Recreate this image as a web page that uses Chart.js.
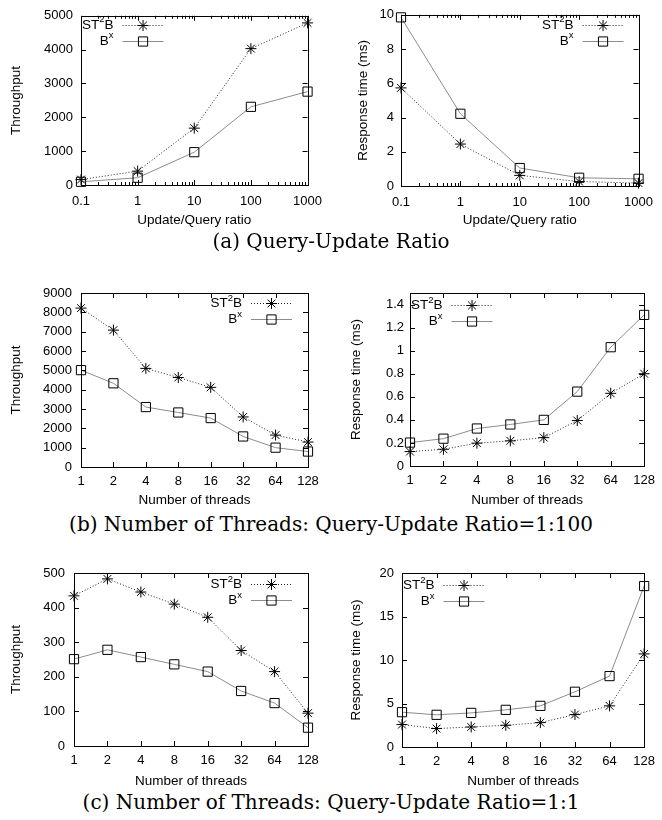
<!DOCTYPE html>
<html>
<head>
<meta charset="utf-8">
<script src="https://cdn.jsdelivr.net/npm/chart.js@4.4.1/dist/chart.umd.min.js"></script>
<style>
  body { margin: 0; background: #fff; width: 662px; height: 820px; position: relative; overflow: hidden; }
  .panel { position: absolute; }
  .cap { position: absolute; left: 0; width: 662px; text-align: center; font-family: "DejaVu Serif", serif; font-size: 20px; line-height: 24px; color: #000; }
</style>
</head>
<body>
<div class="panel" style="left:0;top:0;width:331px;height:232px"><canvas id="c1"></canvas></div>
<div class="panel" style="left:331px;top:0;width:331px;height:232px"><canvas id="c2"></canvas></div>
<div class="cap" style="top:229px">(a) Query-Update Ratio</div>
<div class="panel" style="left:0;top:265px;width:331px;height:245px"><canvas id="c3"></canvas></div>
<div class="panel" style="left:331px;top:265px;width:331px;height:245px"><canvas id="c4"></canvas></div>
<div class="cap" style="top:512px">(b) Number of Threads: Query-Update Ratio=1:100</div>
<div class="panel" style="left:0;top:545px;width:331px;height:245px"><canvas id="c5"></canvas></div>
<div class="panel" style="left:331px;top:545px;width:331px;height:245px"><canvas id="c6"></canvas></div>
<div class="cap" style="top:790px">(c) Number of Threads: Query-Update Ratio=1:1</div>

<script>
// categorias
const ratioLabels = ['0.1', '1', '10', '100', '1000'];
const threadLabels = ['1', '2', '4', '8', '16', '32', '64', '128'];

// (a) Query-Update ratio
const ratioThroughputST2B = [160, 410, 1680, 4030, 4790];
const ratioThroughputBx = [95, 215, 970, 2310, 2760];
const ratioRespST2B = [5.73, 2.45, 0.62, 0.26, 0.17];
const ratioRespBx = [9.85, 4.22, 1.05, 0.48, 0.42];

// (b) threads, ratio 1:100
const t100ThroughputST2B = [8220, 7080, 5100, 4630, 4120, 2590, 1650, 1290];
const t100ThroughputBx = [5010, 4330, 3100, 2820, 2530, 1580, 1000, 800];
const t100RespST2B = [0.125, 0.145, 0.198, 0.218, 0.246, 0.394, 0.63, 0.80];
const t100RespBx = [0.203, 0.237, 0.325, 0.36, 0.40, 0.645, 1.03, 1.31];

// (c) threads, ratio 1:1
const t1ThroughputST2B = [434, 483, 445, 410, 372, 276, 215, 95];
const t1ThroughputBx = [251, 278, 257, 236, 215, 159, 124, 53];
const t1RespST2B = [2.58, 2.12, 2.3, 2.5, 2.8, 3.73, 4.73, 10.7];
const t1RespBx = [4.0, 3.7, 3.92, 4.27, 4.73, 6.35, 8.15, 18.5];

const SANS = '"Liberation Sans", Arial, sans-serif';
const LEGEND_FONT = '13.5px ' + SANS;
const SUP_FONT = '9.5px ' + SANS;

// marco estilo gnuplot: caja, ticks hacia dentro y leyenda
const gnuplotFrame = {
  id: 'gnuplotFrame',
  afterDraw(chart, args, opts) {
    const ctx = chart.ctx;
    const a = chart.chartArea;
    const xs = chart.scales.x, ys = chart.scales.y;
    ctx.save();
    ctx.strokeStyle = '#000';
    ctx.lineWidth = 1;
    ctx.strokeRect(Math.round(a.left) + 0.5, Math.round(a.top) + 0.5,
      Math.round(a.right - a.left), Math.round(a.bottom - a.top));
    ctx.beginPath();
    const major = 5, minor = 3;
    xs.ticks.forEach((t, i) => {
      const x = Math.round(xs.getPixelForTick(i)) + 0.5;
      ctx.moveTo(x, a.bottom); ctx.lineTo(x, a.bottom - major);
      ctx.moveTo(x, a.top); ctx.lineTo(x, a.top + major);
      if (opts.logMinor && i < xs.ticks.length - 1) {
        const x0 = xs.getPixelForTick(i), x1 = xs.getPixelForTick(i + 1);
        for (let k = 2; k <= 9; k++) {
          const mx = Math.round(x0 + (x1 - x0) * Math.log10(k)) + 0.5;
          ctx.moveTo(mx, a.bottom); ctx.lineTo(mx, a.bottom - minor);
          ctx.moveTo(mx, a.top); ctx.lineTo(mx, a.top + minor);
        }
      }
    });
    ys.ticks.forEach((t, i) => {
      const y = Math.round(ys.getPixelForTick(i)) + 0.5;
      ctx.moveTo(a.left, y); ctx.lineTo(a.left + major, y);
      ctx.moveTo(a.right, y); ctx.lineTo(a.right - major, y);
    });
    ctx.stroke();

    // leyenda
    const lg = opts.legend;
    ctx.fillStyle = '#000';
    ctx.textBaseline = 'middle';
    const parts = [
      [['ST', false], ['2', true], ['B', false]],
      [['B', false], ['x', true]]
    ];
    const widthOf = (p) => p.reduce((w, [s, sup]) => {
      ctx.font = sup ? SUP_FONT : LEGEND_FONT;
      return w + ctx.measureText(s).width;
    }, 0);
    const w0 = widthOf(parts[0]);
    let textRight, lineStart, lineEnd;
    if (lg.side === 'left') {
      textRight = a.left + 1 + w0;
      lineStart = textRight + 9;
      lineEnd = lineStart + 41;
    } else {
      lineEnd = a.right - lg.dx;
      lineStart = lineEnd - 41;
      textRight = lineStart - 9;
    }
    chart.data.datasets.forEach((ds, di) => {
      const y = a.top + lg.dy + di * 16;
      let x = textRight - widthOf(parts[di]);
      parts[di].forEach(([s, sup]) => {
        ctx.font = sup ? SUP_FONT : LEGEND_FONT;
        ctx.fillText(s, x, sup ? y - 5 : y);
        x += ctx.measureText(s).width;
      });
      ctx.beginPath();
      ctx.strokeStyle = ds.borderColor;
      ctx.setLineDash(ds.borderDash || []);
      ctx.moveTo(lineStart, Math.round(y) + 0.5);
      ctx.lineTo(lineEnd, Math.round(y) + 0.5);
      ctx.stroke();
      ctx.setLineDash([]);
      ctx.strokeStyle = '#000';
      ctx.fillStyle = 'rgba(0,0,0,0)';
      Chart.helpers.drawPoint(ctx, {
        pointStyle: ds.pointStyle, radius: ds.pointRadius, rotation: 0, borderWidth: 1
      }, (lineStart + lineEnd) / 2, Math.round(y) + 0.5);
      ctx.fillStyle = '#000';
    });
    ctx.restore();
  }
};

function makeChart(id, labels, st2b, bx, yMax, yStep, xTitle, yTitle, box, extra) {
  const W = 331, H = box.h;
  const ctx = document.getElementById(id).getContext('2d');
  return new Chart(ctx, {
    type: 'line',
    data: {
      labels: labels,
      datasets: [{
        label: 'ST2B',
        data: st2b,
        borderColor: '#222',
        borderWidth: 1,
        borderDash: [1, 2],
        pointStyle: 'star',
        pointRadius: 5.5,
        pointBorderColor: '#000',
        pointBorderWidth: 1,
        pointBackgroundColor: 'rgba(0,0,0,0)',
        clip: false
      }, {
        label: 'Bx',
        data: bx,
        borderColor: '#8c8c8c',
        borderWidth: 1,
        pointStyle: 'rect',
        pointRadius: 6.5,
        pointBorderColor: '#000',
        pointBorderWidth: 1,
        pointBackgroundColor: 'rgba(0,0,0,0)',
        clip: false
      }]
    },
    options: {
      responsive: true,
      maintainAspectRatio: false,
      animation: false,
      events: [],
      layout: {
        autoPadding: false,
        padding: { left: 0, top: box.top, right: W - box.right, bottom: 0 }
      },
      plugins: {
        legend: { display: false },
        tooltip: { enabled: false },
        gnuplotFrame: { legend: extra.legend, logMinor: extra.logMinor }
      },
      scales: {
        x: {
          type: 'category',
          offset: false,
          grid: { display: false, drawTicks: false },
          border: { display: false },
          ticks: { color: '#000', font: { family: SANS, size: 13 }, padding: extra.xPad, maxRotation: 0, autoSkip: false },
          title: { display: true, text: xTitle, color: '#000', font: { family: SANS, size: 13.5 }, padding: { top: 0, bottom: extra.xTitlePad } },
          afterFit(scale) { scale.height = H - box.bottom; }
        },
        y: {
          min: 0,
          max: yMax,
          grid: { display: false, drawTicks: false },
          border: { display: false },
          ticks: { stepSize: yStep, includeBounds: false, color: '#000', font: { family: SANS, size: 13 }, padding: extra.yPad,
            callback: (v) => String(Math.round(v * 1000) / 1000) },
          title: { display: true, text: yTitle, color: '#000', font: { family: SANS, size: 13.5 }, padding: { top: extra.yTitleX - 8.1, bottom: 0 } },
          afterFit(scale) { scale.width = box.left; }
        }
      }
    },
    plugins: [gnuplotFrame]
  });
}

makeChart('c1', ratioLabels, ratioThroughputST2B, ratioThroughputBx, 5000, 1000,
  'Update/Query ratio', 'Throughput',
  { left: 81, right: 308, top: 14, bottom: 185, h: 232 },
  { legend: { side: 'left', dy: 9 }, logMinor: true, xPad: 9, xTitlePad: 4, yPad: 8, yTitleX: 16 });

makeChart('c2', ratioLabels, ratioRespST2B, ratioRespBx, 10, 2,
  'Update/Query ratio', 'Response time (ms)',
  { left: 70, right: 313, top: 14, bottom: 186, h: 232 },
  { legend: { side: 'right', dx: 15, dy: 10 }, logMinor: true, xPad: 9, xTitlePad: 4, yPad: 7, yTitleX: 32 });

makeChart('c3', threadLabels, t100ThroughputST2B, t100ThroughputBx, 9000, 1000,
  'Number of threads', 'Throughput',
  { left: 81, right: 308, top: 28, bottom: 202, h: 245 },
  { legend: { side: 'right', dx: 16, dy: 10 }, logMinor: false, xPad: 7, xTitlePad: 2, yPad: 9, yTitleX: 16 });

makeChart('c4', threadLabels, t100RespST2B, t100RespBx, 1.5, 0.2,
  'Number of threads', 'Response time (ms)',
  { left: 79, right: 315, top: 28, bottom: 201, h: 245 },
  { legend: { side: 'left', dy: 12 }, logMinor: false, xPad: 7, xTitlePad: 2, yPad: 6, yTitleX: 25 });

makeChart('c5', threadLabels, t1ThroughputST2B, t1ThroughputBx, 500, 100,
  'Number of threads', 'Throughput',
  { left: 74, right: 308, top: 28, bottom: 201, h: 245 },
  { legend: { side: 'right', dx: 16, dy: 11 }, logMinor: false, xPad: 7, xTitlePad: 1, yPad: 9, yTitleX: 16 });

makeChart('c6', threadLabels, t1RespST2B, t1RespBx, 20, 5,
  'Number of threads', 'Response time (ms)',
  { left: 71, right: 315, top: 28, bottom: 202, h: 245 },
  { legend: { side: 'left', dy: 12 }, logMinor: false, xPad: 7, xTitlePad: 1, yPad: 8, yTitleX: 25 });
</script>
</body>
</html>
